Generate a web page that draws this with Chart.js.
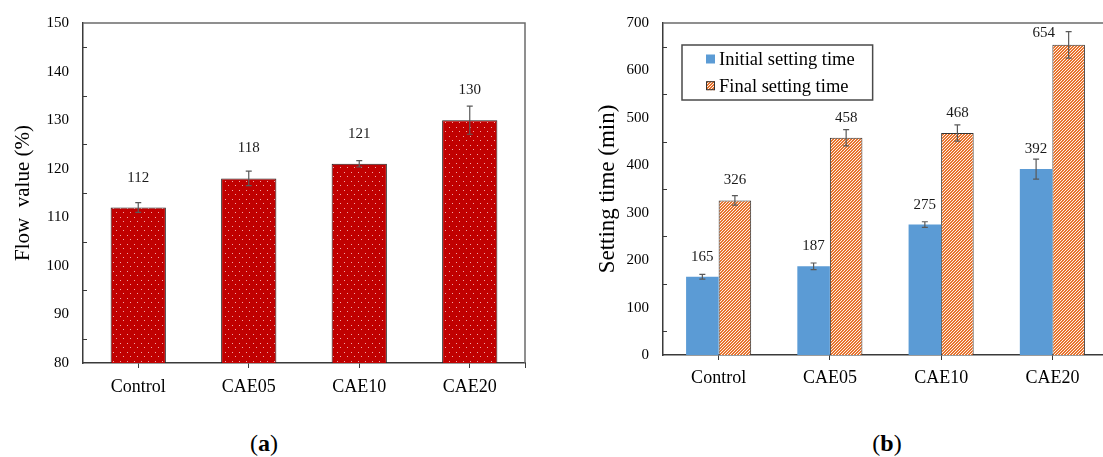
<!DOCTYPE html>
<html>
<head>
<meta charset="utf-8">
<script src="https://cdn.jsdelivr.net/npm/chart.js@4.4.1/dist/chart.umd.min.js"></script>
<style>
  html, body { margin: 0; padding: 0; background: #fff; width: 1103px; height: 457px; overflow: hidden; position: relative; }
  #wrapA { position: absolute; left: 0; top: 0; width: 550px; height: 420px; }
  #wrapB { position: absolute; left: 560px; top: 0; width: 560px; height: 420px; }
  .cap { position: absolute; top: 429px; width: 80px; text-align: center; line-height: 28px;
         font-family: 'Liberation Serif', 'Times New Roman', serif; font-size: 24px; color: #000; }
  .cap b { font-weight: bold; }
</style>
</head>
<body>
<div id="wrapA"><canvas id="flowChart" width="550" height="420"></canvas></div>
<div id="wrapB"><canvas id="settingChart" width="560" height="420"></canvas></div>
<div class="cap" style="left:224px">(<b>a</b>)</div>
<div class="cap" style="left:847px">(<b>b</b>)</div>

<script>
// ---- data ----
const categories = ['Control', 'CAE05', 'CAE10', 'CAE20'];

const flowValue = [112, 118, 121, 130];
const flowError = [1.0, 1.5, 0.65, 2.9];
const flowTicks = [80, 90, 100, 110, 120, 130, 140, 150];

const initialSetting = [165, 187, 275, 392];
const initialError = [5, 7, 6, 21];
const finalSetting = [326, 458, 468, 654];
const finalError = [10, 17, 17, 28];
const settingTicks = [0, 100, 200, 300, 400, 500, 600, 700];

// ---- styling helpers ----
const SERIF = "'Liberation Serif', 'Times New Roman', serif";
const AXIS = '#3a3a3a';
const FRAME = '#6b6b6b';
const WHISKER = '#595959';

function dotPattern(ctx) {
  const c = document.createElement('canvas');
  c.width = 7; c.height = 9;
  const g = c.getContext('2d');
  g.fillStyle = '#C00000';
  g.fillRect(0, 0, 7, 9);
  g.fillStyle = '#EFA8A8';
  g.fillRect(1, 1, 1, 1);
  g.fillRect(4, 5, 1, 1);
  return ctx.createPattern(c, 'repeat');
}

function hatchPattern(ctx) {
  const c = document.createElement('canvas');
  c.width = 3; c.height = 3;
  const g = c.getContext('2d');
  g.fillStyle = '#fdf1ea';
  g.fillRect(0, 0, 3, 3);
  g.fillStyle = '#E8732C';
  for (let y = 0; y < 3; y++) {
    for (let x = 0; x < 3; x++) {
      if ((x + y) % 3 < 2) g.fillRect(x, y, 1, 1);
    }
  }
  return ctx.createPattern(c, 'repeat');
}

// box on top/right, short inward minor ticks on the value axis, end tick on the category axis
const framePlugin = {
  id: 'frame',
  afterDatasetsDraw(chart, args, opts) {
    const { ctx, chartArea: a, scales: { x, y } } = chart;
    ctx.save();
    ctx.strokeStyle = FRAME;
    ctx.lineWidth = 1.5;
    ctx.beginPath();
    ctx.moveTo(a.left, a.top);
    ctx.lineTo(a.right, a.top);
    ctx.lineTo(a.right, a.bottom);
    ctx.stroke();

    ctx.strokeStyle = AXIS;
    ctx.lineWidth = 1;
    const step = opts.minorStep;
    ctx.beginPath();
    for (let v = y.min + step; v < y.max; v += 2 * step) {
      const py = Math.round(y.getPixelForValue(v)) + 0.5;
      ctx.moveTo(a.left, py);
      ctx.lineTo(a.left + 4, py);
    }
    const rx = Math.round(a.right) + 0.5;
    ctx.moveTo(rx, a.bottom);
    ctx.lineTo(rx, a.bottom + 5);
    ctx.stroke();
    ctx.restore();
  }
};

// whiskers and value labels drawn from each dataset's own values
const annotatePlugin = {
  id: 'annotate',
  afterDatasetsDraw(chart, args, opts) {
    const { ctx, chartArea: a, scales: { y } } = chart;
    ctx.save();
    chart.data.datasets.forEach((ds, di) => {
      const meta = chart.getDatasetMeta(di);
      meta.data.forEach((bar, i) => {
        const v = ds.data[i];
        const e = ds.errors[i];
        const yTop = y.getPixelForValue(v + e);
        const yBot = y.getPixelForValue(v - e);
        ctx.strokeStyle = WHISKER;
        ctx.lineWidth = 1.2;
        ctx.beginPath();
        ctx.moveTo(bar.x, yTop); ctx.lineTo(bar.x, yBot);
        ctx.moveTo(bar.x - 3, yTop); ctx.lineTo(bar.x + 3, yTop);
        ctx.moveTo(bar.x - 3, yBot); ctx.lineTo(bar.x + 3, yBot);
        ctx.stroke();

        let lx = bar.x;
        let ly = bar.y - opts.lift;
        // a label that would run into the top of the plot moves beside its whisker
        if (ly < a.top + 14) {
          lx = bar.x - 25;
          ly = bar.y - 12;
        }
        ctx.fillStyle = '#1a1a1a';
        ctx.font = '15px ' + SERIF;
        ctx.textAlign = 'center';
        ctx.textBaseline = 'middle';
        ctx.fillText(String(v), lx, ly);
      });
    });
    ctx.restore();
  }
};

// boxed legend in the upper-left of the plot
const boxLegendPlugin = {
  id: 'boxLegend',
  afterDraw(chart) {
    const { ctx, chartArea: a } = chart;
    const dss = chart.data.datasets;
    ctx.save();
    ctx.font = '18.5px ' + SERIF;
    const tw = Math.max(...dss.map(d => ctx.measureText(d.label).width));
    const bx = a.left + 19, by = a.top + 22;
    const bw = 37 + tw + 18, bh = 55;
    ctx.strokeStyle = '#4a4a4a';
    ctx.lineWidth = 1.5;
    ctx.strokeRect(bx, by, bw, bh);
    dss.forEach((d, i) => {
      const cy = by + 14 + i * 26.7;
      ctx.fillStyle = d.backgroundColor;
      ctx.fillRect(bx + 24, cy - 4.5, 9, 9);
      if (d.borderWidth) {
        ctx.strokeStyle = '#333';
        ctx.lineWidth = 1;
        ctx.strokeRect(bx + 24.5, cy - 4, 8, 8);
      }
      ctx.fillStyle = '#000';
      ctx.textAlign = 'left';
      ctx.textBaseline = 'middle';
      ctx.fillText(d.label, bx + 37, cy + 1);
    });
    ctx.restore();
  }
};

function axisX(height, pad) {
  return {
    grid: { display: true, drawOnChartArea: false, drawTicks: true, tickLength: 5, offset: false, color: AXIS, lineWidth: 1 },
    border: { display: true, color: AXIS, width: 1.5 },
    ticks: { color: '#000', font: { family: SERIF, size: 18 }, padding: pad, maxRotation: 0 },
    afterFit: s => { s.height = height; }
  };
}

function axisY(min, max, step, tickVals, width, titleText, titleSize, titlePad) {
  return {
    min: min, max: max,
    afterBuildTicks: s => { s.ticks = tickVals.map(v => ({ value: v })); },
    grid: { display: false, drawTicks: false },
    border: { display: true, color: AXIS, width: 1.5 },
    ticks: { color: '#000', font: { family: SERIF, size: 15 }, padding: 14, stepSize: step },
    title: { display: true, text: titleText, color: '#000',
             font: { family: SERIF, size: titleSize, lineHeight: 1 }, padding: { top: titlePad, bottom: 0 } },
    afterFit: s => { s.width = width; }
  };
}

// ---- (a) flow value ----
const ctxA = document.getElementById('flowChart').getContext('2d');
new Chart(ctxA, {
  type: 'bar',
  data: {
    labels: categories,
    datasets: [{
      label: 'Flow value',
      data: flowValue,
      errors: flowError,
      backgroundColor: dotPattern(ctxA),
      borderColor: '#222',
      borderWidth: 1,
      barPercentage: 0.5,
      categoryPercentage: 1
    }]
  },
  options: {
    responsive: false,
    animation: false,
    layout: { padding: { top: 22, right: 25, left: 0, bottom: 0 } },
    plugins: { legend: { display: false }, tooltip: { enabled: false }, frame: { minorStep: 5 }, annotate: { lift: 30 } },
    scales: {
      x: axisX(57, 8),
      y: axisY(80, 150, 10, flowTicks, 83, 'Flow  value (%)', 21, 12.5)
    }
  },
  plugins: [framePlugin, annotatePlugin]
});

// ---- (b) setting time ----
const ctxB = document.getElementById('settingChart').getContext('2d');
new Chart(ctxB, {
  type: 'bar',
  data: {
    labels: categories,
    datasets: [{
      label: 'Initial setting time',
      data: initialSetting,
      errors: initialError,
      backgroundColor: '#5B9BD5',
      borderWidth: 0,
      barPercentage: 1,
      categoryPercentage: 0.585
    }, {
      label: 'Final setting time',
      data: finalSetting,
      errors: finalError,
      backgroundColor: hatchPattern(ctxB),
      borderColor: '#333',
      borderWidth: 1,
      barPercentage: 1,
      categoryPercentage: 0.585
    }]
  },
  options: {
    responsive: false,
    animation: false,
    layout: { padding: { top: 17, right: 12, left: 0, bottom: 0 } },
    plugins: { legend: { display: false }, tooltip: { enabled: false }, frame: { minorStep: 50 }, annotate: { lift: 20 } },
    scales: {
      x: axisX(65, 7),
      y: axisY(0, 700, 100, settingTicks, 103, 'Setting time (min)', 23, 36.5)
    }
  },
  plugins: [framePlugin, annotatePlugin, boxLegendPlugin]
});
</script>
</body>
</html>
